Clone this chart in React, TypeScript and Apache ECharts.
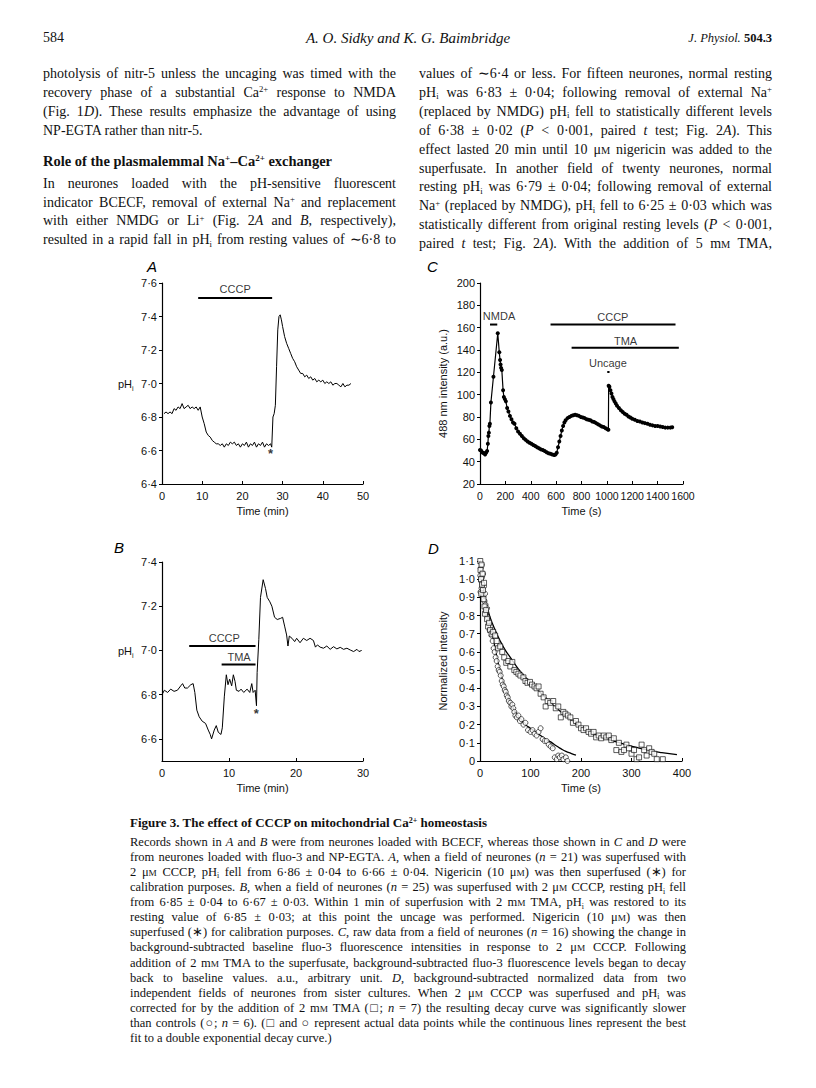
import React, { useEffect, useLayoutEffect, useRef } from "react";
import * as echarts from "echarts";

// ---------------- DATA ----------------
// Panel A: pHi vs time (min)
const A_TRACE: [number, number][] = [
  [0.5, 6.82], [1, 6.83], [1.5, 6.82], [2, 6.83], [2.5, 6.82], [3, 6.85], [3.5, 6.84], [4, 6.86], [4.5, 6.85], [5, 6.88],
  [5.5, 6.85], [6, 6.86], [6.5, 6.87], [7, 6.85], [7.5, 6.86], [8, 6.85], [8.5, 6.86], [9, 6.84], [9.5, 6.86], [10, 6.8],
  [10.5, 6.76], [11, 6.71], [11.5, 6.69], [12, 6.68], [12.5, 6.66], [13, 6.65], [13.5, 6.64], [14, 6.64], [14.5, 6.63], [15, 6.64],
  [15.5, 6.62], [16, 6.64], [16.5, 6.63], [17, 6.65], [17.5, 6.64], [18, 6.65], [18.5, 6.63], [19, 6.64], [19.5, 6.62], [20, 6.64],
  [20.5, 6.63], [21, 6.65], [21.5, 6.62], [22, 6.64], [22.5, 6.63], [23, 6.65], [23.5, 6.62], [24, 6.64], [24.5, 6.63], [25, 6.65],
  [25.5, 6.62], [26, 6.64], [26.5, 6.63], [27, 6.64], [27.3, 6.62], [27.6, 6.8], [27.9, 6.82], [28.2, 6.87], [28.5, 7.1], [28.8, 7.32],
  [29.1, 7.4], [29.4, 7.41], [29.7, 7.38], [30, 7.34], [30.5, 7.28], [31, 7.24], [31.5, 7.21], [32, 7.18], [32.5, 7.15], [33, 7.13],
  [33.5, 7.1], [34, 7.08], [34.5, 7.06], [35, 7.06], [35.5, 7.04], [36, 7.05], [36.5, 7.03], [37, 7.04], [37.5, 7.02], [38, 7.03],
  [38.5, 7.01], [39, 7.02], [39.5, 7.01], [40, 7.02], [40.5, 7.0], [41, 7.01], [41.5, 7.0], [42, 7.01], [42.5, 6.99], [43, 7.0],
  [43.5, 7.0], [44, 6.99], [44.5, 6.98], [45, 7.0], [45.5, 6.98], [46, 6.99], [46.5, 6.99], [47, 7.0],
];
const A_BARS = [{ from: 9, to: 27.4, y: 7.51 }];
const A_NOTES = [
  { x: 18.2, y: 7.565, text: "CCCP" },
  { x: 27, y: 6.585, text: "*" },
];

// Panel B: pHi vs time (min)
const B_TRACE: [number, number][] = [
  [0, 6.8], [0.35, 6.82], [0.84, 6.81], [1.3, 6.825], [1.8, 6.815], [2.3, 6.82], [2.8, 6.84], [3.07, 6.85], [3.4, 6.83], [3.8, 6.83],
  [4.3, 6.845], [4.65, 6.85], [4.9, 6.81], [5.2, 6.73], [5.55, 6.7], [6.0, 6.68], [6.5, 6.67], [6.9, 6.64], [7.2, 6.62], [7.4, 6.6],
  [7.8, 6.64], [8.1, 6.66], [8.4, 6.63], [8.8, 6.62], [9.0, 6.65], [9.3, 6.79], [9.6, 6.89], [9.85, 6.845], [10.1, 6.87], [10.4, 6.84],
  [10.65, 6.89], [10.9, 6.86], [11.1, 6.82], [11.5, 6.815], [11.8, 6.825], [12.2, 6.81], [12.7, 6.825], [13.1, 6.81], [13.4, 6.85], [13.6, 6.81],
  [13.9, 6.82], [14.1, 6.75], [14.2, 6.9], [14.45, 7.05], [14.7, 7.24], [15.1, 7.32], [15.45, 7.28], [15.7, 7.24], [16.1, 7.22], [16.4, 7.2],
  [16.8, 7.15], [17.2, 7.14], [17.7, 7.145], [18.0, 7.15], [18.3, 7.11], [18.6, 7.07], [18.8, 7.02], [19.0, 7.065], [19.4, 7.055], [19.8, 7.04],
  [20.1, 7.055], [20.6, 7.035], [21.1, 7.055], [21.6, 7.045], [22.1, 7.055], [22.6, 7.045], [22.9, 7.015], [23.2, 7.025], [23.6, 7.015], [24.1, 7.01],
  [24.6, 7.02], [25.1, 7.005], [25.6, 7.017], [26.1, 7.007], [26.6, 7.014], [27.1, 7.005], [27.6, 7.01], [28.1, 7.002], [28.6, 6.995], [29.1, 7.005],
  [29.4, 6.995], [29.8, 7.0],
];
const B_BARS = [
  { from: 4.06, to: 13.96, y: 7.02 },
  { from: 8.9, to: 13.96, y: 6.936 },
];
const B_NOTES = [
  { x: 9.3, y: 7.055, text: "CCCP" },
  { x: 11.5, y: 6.97, text: "TMA" },
  { x: 14.06, y: 6.717, text: "*" },
];

// Panel C: 488 nm intensity (a.u.) vs time (s)
const C_TRACE: [number, number][] = [
  [0, 50.5], [8, 50], [16, 48.5], [24, 48], [32, 47.5], [40, 46.5], [48, 48], [56, 49.5], [62, 56], [66, 63],
  [70, 66], [74, 72], [78, 74], [86, 93], [106, 116], [140, 155], [152, 138], [158, 131], [162, 127], [166, 124],
  [172, 122], [182, 104], [188, 98], [196, 96], [204, 94], [214, 88], [224, 85], [236, 81], [248, 78], [260, 75],
  [272, 74], [286, 70], [300, 67], [315, 65], [330, 63], [345, 61], [360, 59.5], [375, 58], [390, 57], [405, 56],
  [420, 55], [435, 54], [450, 53], [465, 52], [480, 51], [495, 50.5], [510, 49.5], [525, 48.5], [540, 47.5], [555, 47],
  [570, 46.5], [585, 46], [595, 46.5], [605, 48], [615, 53], [625, 58], [635, 63], [645, 68], [655, 72], [665, 75],
  [675, 77], [690, 79], [705, 80], [720, 81], [735, 81.5], [750, 82], [765, 81.5], [780, 81], [795, 80], [810, 79.5],
  [825, 79], [840, 78], [855, 77.5], [870, 77], [885, 76], [900, 75.5], [915, 74.5], [930, 73.5], [945, 72.5], [960, 71.5],
  [975, 71], [990, 70], [1005, 69], [1012, 68.5], [1014, 108], [1020, 107], [1028, 104], [1036, 101], [1044, 98], [1052, 96],
  [1060, 94], [1070, 92], [1080, 90], [1095, 88], [1110, 86], [1125, 84.5], [1140, 83], [1155, 82], [1170, 80.5], [1185, 79.5],
  [1200, 78.5], [1220, 77.5], [1240, 76.5], [1260, 76], [1280, 75], [1300, 74.5], [1320, 74], [1340, 73], [1360, 72.5], [1380, 72],
  [1400, 72], [1420, 71.5], [1440, 71], [1460, 70.5], [1480, 70.5], [1500, 70.5], [1515, 70.8],
];
const C_BARS = [
  { from: 79, to: 136, y: 162.8 },
  { from: 556, to: 1541, y: 162.8 },
  { from: 722, to: 1567, y: 142 },
  { from: 1003, to: 1021, y: 120.3 },
];
const C_NOTES = [
  { x: 150, y: 170.2, text: "NMDA" },
  { x: 1047, y: 169.6, text: "CCCP" },
  { x: 1147, y: 148, text: "TMA" },
  { x: 1008, y: 128, text: "Uncage" },
];

// Panel D: normalized intensity vs time (s)
const D_CONTROL: [number, number][] = [
  [0.5, 1.02], [1, 0.93], [1.5, 1.06], [2, 0.99], [3, 0.95], [3.5, 1.08], [4, 1.01], [5, 0.97], [6, 1.03], [7, 0.91],
  [8, 0.96], [9, 0.88], [10, 0.92], [11, 0.86], [12, 0.82], [14, 0.84], [15, 0.79], [17, 0.77], [19, 0.72], [21, 0.74],
  [23, 0.69], [25, 0.66], [27, 0.62], [29, 0.6], [31, 0.57], [33, 0.55], [35, 0.52], [37, 0.5], [39, 0.49], [41, 0.47],
  [43, 0.44], [45, 0.42], [47, 0.41], [49, 0.39], [51, 0.38], [53, 0.36], [55, 0.35], [57, 0.33], [60, 0.32], [62, 0.3],
  [64, 0.31], [66, 0.29], [68, 0.27], [70, 0.25], [73, 0.24], [76, 0.25], [79, 0.22], [82, 0.23], [86, 0.2], [90, 0.21],
  [95, 0.17], [100, 0.16], [104, 0.17], [108, 0.15], [112, 0.14], [116, 0.16], [120, 0.18], [124, 0.12], [128, 0.11], [132, 0.11],
  [136, 0.09], [140, 0.08], [144, 0.07], [148, 0.02], [152, 0.01], [155, 0.03], [158, 0.02], [162, 0.03], [165, 0.01], [170, 0.02],
  [173, 0.0],
];
const D_TMA: [number, number][] = [
  [0.5, 1.1], [1, 1.05], [2, 1.0], [2.5, 0.92], [3, 1.08], [4, 0.97], [5, 1.03], [6, 0.94], [7, 0.89], [8, 0.98],
  [9, 0.85], [10, 0.81], [12, 0.83], [14, 0.78], [16, 0.74], [18, 0.76], [20, 0.72], [23, 0.7], [26, 0.71], [30, 0.69],
  [33, 0.66], [36, 0.62], [40, 0.63], [44, 0.6], [48, 0.57], [52, 0.54], [56, 0.55], [60, 0.52], [64, 0.545], [68, 0.5],
  [72, 0.49], [76, 0.48], [80, 0.47], [86, 0.46], [90, 0.44], [94, 0.43], [99, 0.435], [103, 0.42], [108, 0.41], [112, 0.4],
  [116, 0.41], [120, 0.37], [126, 0.35], [130, 0.3], [134, 0.33], [139, 0.32], [145, 0.33], [150, 0.29], [155, 0.3], [160, 0.24],
  [165, 0.27], [169, 0.26], [174, 0.25], [179, 0.24], [184, 0.21], [190, 0.22], [195, 0.2], [200, 0.18], [205, 0.17], [210, 0.18],
  [215, 0.16], [220, 0.15], [225, 0.16], [230, 0.13], [235, 0.14], [240, 0.125], [245, 0.14], [250, 0.13], [255, 0.14], [260, 0.115],
  [265, 0.125], [270, 0.06], [275, 0.1], [280, 0.05], [285, 0.06], [290, 0.09], [295, 0.07], [300, 0.04], [305, 0.06], [310, 0.01],
  [315, 0.02], [320, 0.09], [325, 0.06], [330, 0.03], [335, 0.07], [340, 0.05], [345, 0.04], [350, 0.01], [362, 0.01],
];
const D_FIT_CONTROL: [number, number][] = [
  [0, 1.08], [5, 0.97], [10, 0.88], [15, 0.81], [20, 0.75], [25, 0.69], [30, 0.62], [35, 0.55], [40, 0.49], [45, 0.44],
  [50, 0.39], [55, 0.355], [60, 0.32], [70, 0.27], [80, 0.23], [90, 0.2], [100, 0.18], [110, 0.16], [120, 0.14], [130, 0.12],
  [140, 0.105], [150, 0.085], [160, 0.068], [170, 0.053], [180, 0.042], [190, 0.032],
];
const D_FIT_TMA: [number, number][] = [
  [0, 1.08], [5, 0.98], [10, 0.9], [15, 0.84], [20, 0.79], [30, 0.72], [40, 0.66], [50, 0.61], [60, 0.57], [75, 0.51],
  [90, 0.46], [105, 0.415], [120, 0.375], [135, 0.335], [150, 0.295], [165, 0.26], [180, 0.225], [195, 0.195], [210, 0.17], [225, 0.152],
  [240, 0.133], [255, 0.118], [270, 0.105], [285, 0.093], [300, 0.082], [315, 0.071], [330, 0.062], [345, 0.053], [360, 0.046], [375, 0.04],
  [390, 0.035],
];

const B_YTICKS = [6.6, 6.8, 7.0, 7.2, 7.4];

// ---------------- STYLE ----------------
const SERIF = '"Liberation Serif", "Times New Roman", serif';
const SANS = '"Liberation Sans", Arial, Helvetica, sans-serif';
const INK = "#111";

const dot1 = (v: number) => (v === 0 ? "0" : v.toFixed(1).replace(".", "\u00b7"));

function buildOption() {
  const grids = [
    { left: 162, top: 283, width: 201, height: 201 }, // A
    { left: 480, top: 283, width: 203, height: 201 }, // C
    { left: 162, top: 562, width: 201, height: 199 }, // B
    { left: 480, top: 561, width: 202, height: 200 }, // D
  ];
  const labelStyle = { color: INK, fontSize: 11, fontFamily: SANS };
  const xAx = (i: number, min: number, max: number, interval: number, name: string, size = 11) => ({
    type: "value",
    gridIndex: i,
    min,
    max,
    interval,
    name,
    nameLocation: "middle",
    nameGap: 21,
    nameTextStyle: { ...labelStyle },
    axisLine: { onZero: false, lineStyle: { color: "#000", width: 1.2 } },
    axisTick: { inside: true, length: 3, lineStyle: { color: "#000", width: 1 } },
    axisLabel: {
      ...labelStyle,
      fontSize: size,
      margin: 6,
      hideOverlap: false,
      showMinLabel: true,
      showMaxLabel: true,
      formatter: (v: number) => String(v),
    },
    splitLine: { show: false },
  });
  const yAx = (i: number, min: number, max: number, extra: any) => ({
    type: "value",
    gridIndex: i,
    min,
    max,
    axisLine: { onZero: false, lineStyle: { color: "#000", width: 1.2 } },
    axisTick: { inside: false, length: 3, lineStyle: { color: "#000", width: 1 } },
    splitLine: { show: false },
    nameTextStyle: { ...labelStyle },
    ...extra,
    axisLabel: { ...labelStyle, margin: 5, hideOverlap: false, ...(extra.axisLabel || {}) },
  });

  const xAxis = [
    xAx(0, 0, 50, 10, "Time (min)"),
    xAx(1, 0, 1600, 200, "Time (s)", 10.5),
    xAx(2, 0, 30, 10, "Time (min)"),
    xAx(3, 0, 400, 100, "Time (s)"),
  ];
  const yAxis = [
    yAx(0, 6.4, 7.6, { interval: 0.2, axisLabel: { formatter: (v: number) => dot1(v) } }),
    yAx(1, 20, 200, {
      interval: 20,
      name: "488 nm intensity (a.u.)",
      nameLocation: "middle",
      nameRotate: 90,
      nameGap: 32,
      axisLabel: { formatter: (v: number) => String(v) },
    }),
    yAx(2, 6.5, 7.4, {
      axisLabel: { formatter: (v: number) => dot1(v), customValues: B_YTICKS },
      axisTick: { inside: false, length: 3, lineStyle: { color: "#000", width: 1 }, customValues: B_YTICKS },
    }),
    yAx(3, 0, 1.1, {
      interval: 0.1,
      name: "Normalized intensity",
      nameLocation: "middle",
      nameRotate: 90,
      nameGap: 32,
      axisLabel: { formatter: (v: number) => dot1(v) },
    }),
  ];

  const series: any[] = [];
  const trace = (i: number, data: [number, number][], extra: any = {}) =>
    series.push({
      type: "line",
      xAxisIndex: i,
      yAxisIndex: i,
      data,
      symbol: "none",
      lineStyle: { color: "#000", width: 1 },
      itemStyle: { color: "#000" },
      silent: true,
      z: 3,
      ...extra,
    });
  const bars = (i: number, list: { from: number; to: number; y: number }[]) =>
    list.forEach((b) =>
      series.push({
        type: "line",
        xAxisIndex: i,
        yAxisIndex: i,
        data: [
          [b.from, b.y],
          [b.to, b.y],
        ],
        symbol: "none",
        lineStyle: { color: "#000", width: 2 },
        silent: true,
        z: 4,
      })
    );
  const notes = (i: number, list: { x: number; y: number; text: string }[]) =>
    list.forEach((n) =>
      series.push({
        type: "scatter",
        xAxisIndex: i,
        yAxisIndex: i,
        data: [[n.x, n.y]],
        symbol: "circle",
        symbolSize: 1,
        itemStyle: { color: "rgba(0,0,0,0)" },
        silent: true,
        z: 5,
        label: {
          show: true,
          position: "inside",
          formatter: n.text,
          color: "#000",
          fontSize: n.text === "*" ? 13 : 11,
          fontWeight: n.text === "*" ? "bold" : "normal",
          fontFamily: SANS,
        },
      })
    );

  // A
  trace(0, A_TRACE);
  bars(0, A_BARS);
  notes(0, A_NOTES);
  // C
  trace(1, C_TRACE, { symbol: "circle", symbolSize: 4, showSymbol: true, lineStyle: { color: "#000", width: 1.2 } });
  bars(1, C_BARS);
  notes(1, C_NOTES);
  // B
  trace(2, B_TRACE);
  bars(2, B_BARS);
  notes(2, B_NOTES);
  // D
  trace(3, D_FIT_CONTROL, { smooth: true, lineStyle: { color: "#000", width: 1.3 } });
  trace(3, D_FIT_TMA, { smooth: true, lineStyle: { color: "#000", width: 1.3 } });
  series.push({
    type: "scatter",
    xAxisIndex: 3,
    yAxisIndex: 3,
    data: D_CONTROL,
    symbol: "circle",
    symbolSize: 5,
    itemStyle: { color: "#fff", borderColor: "#000", borderWidth: 0.8 },
    silent: true,
    z: 4,
  });
  series.push({
    type: "scatter",
    xAxisIndex: 3,
    yAxisIndex: 3,
    data: D_TMA,
    symbol: "rect",
    symbolSize: 5,
    itemStyle: { color: "#fff", borderColor: "#000", borderWidth: 0.8 },
    silent: true,
    z: 4,
  });

  const letter = (t: string, x: number, y: number) => ({
    type: "text",
    x,
    y,
    style: {
      text: t,
      fontSize: 15,
      fontStyle: "italic",
      fontFamily: SANS,
      fill: "#000",
      verticalAlign: "middle",
      align: "left",
    },
  });
  const phLabel = (x: number, y: number) => [
    {
      type: "text",
      x,
      y,
      style: { text: "pH", fontSize: 11, fontFamily: SANS, fill: INK, verticalAlign: "middle", align: "left" },
    },
    {
      type: "text",
      x: x + 14,
      y: y + 4,
      style: { text: "i", fontSize: 7, fontFamily: SANS, fill: INK, verticalAlign: "middle", align: "left" },
    },
  ];

  return {
    animation: false,
    backgroundColor: "transparent",
    grid: grids,
    xAxis,
    yAxis,
    series,
    graphic: [
      letter("A", 147, 266),
      letter("C", 427, 266),
      letter("B", 114, 547),
      letter("D", 428, 548),
      ...phLabel(118, 384),
      ...phLabel(118, 651),
    ],
  };
}

// ---------------- TEXT HELPERS ----------------
const Sup = ({ c }: { c: string }) => (
  <span style={{ fontSize: "0.62em", position: "relative", top: "-0.55em", lineHeight: 0 }}>{c}</span>
);
const Sub = ({ c }: { c: string }) => (
  <span style={{ fontSize: "0.62em", position: "relative", top: "0.3em", lineHeight: 0 }}>{c}</span>
);
const SC = ({ c }: { c: string }) => <span style={{ fontSize: "0.74em" }}>{c}</span>;
const PH = () => (
  <>
    pH
    <Sub c="i" />
  </>
);
const UM = () => (
  <>
    μ<SC c="M" />
  </>
);
const MM = () => (
  <>
    m<SC c="M" />
  </>
);

function Line(props: {
  x: number;
  y: number;
  w: number;
  justify?: boolean;
  size: number;
  weight?: string;
  italic?: boolean;
  align?: "left" | "right" | "center";
  children: any;
}) {
  const ref = useRef<HTMLSpanElement>(null);
  const { x, y, w, justify, size, weight, italic, align = "left", children } = props;
  useLayoutEffect(() => {
    const el = ref.current;
    if (!el) return;
    el.style.width = "auto";
    el.style.transform = "none";
    const nat = el.getBoundingClientRect().width;
    if (nat > w) {
      el.style.transform = `scaleX(${w / nat})`;
    } else if (justify) {
      el.style.whiteSpace = "normal";
      el.style.width = w + "px";
    }
  }, []);
  return (
    <div
      style={{
        position: "absolute",
        left: x,
        top: y - 10,
        width: w,
        height: 20,
        lineHeight: "20px",
        fontSize: size,
        fontFamily: SERIF,
        fontWeight: weight || "normal",
        fontStyle: italic ? "italic" : "normal",
        color: "#111",
        whiteSpace: "nowrap",
        textAlign: align,
      }}
    >
      <span
        ref={ref}
        style={{
          display: "inline-block",
          whiteSpace: "nowrap",
          textAlign: justify ? "justify" : align,
          textAlignLast: justify ? "justify" : align,
          transformOrigin: align === "right" ? "100% 50%" : "0 50%",
        }}
      >
        {children}
      </span>
    </div>
  );
}

const BODY = 14;
const LH = 18.9;
const Y0 = 74;
const LX = 43;
const RX = 419;
const CW = 353;
const CAP_X = 130;
const CAP_W = 556;
const CAP_Y = 842;
const CAP_LH = 15.07;
const CAP = 12.5;

function PageText() {
  const left = [
    <>photolysis of nitr-5 unless the uncaging was timed with the</>,
    <>
      recovery phase of a substantial Ca<Sup c="2+" /> response to NMDA
    </>,
    <>
      (Fig. 1<i>D</i>). These results emphasize the advantage of using
    </>,
  ];
  const left2 = [
    <>In neurones loaded with the pH-sensitive fluorescent</>,
    <>
      indicator BCECF, removal of external Na<Sup c="+" /> and replacement
    </>,
    <>
      with either NMDG or Li<Sup c="+" /> (Fig. 2<i>A</i> and <i>B</i>, respectively),
    </>,
    <>
      resulted in a rapid fall in <PH /> from resting values of ∼6·8 to
    </>,
  ];
  const right = [
    <>values of ∼6·4 or less. For fifteen neurones, normal resting</>,
    <>
      <PH /> was 6·83 ± 0·04; following removal of external Na<Sup c="+" />
    </>,
    <>
      (replaced by NMDG) <PH /> fell to statistically different levels
    </>,
    <>
      of 6·38 ± 0·02 (<i>P</i> &lt; 0·001, paired <i>t</i> test; Fig. 2<i>A</i>). This
    </>,
    <>
      effect lasted 20 min until 10 <UM /> nigericin was added to the
    </>,
    <>superfusate. In another field of twenty neurones, normal</>,
    <>
      resting <PH /> was 6·79 ± 0·04; following removal of external
    </>,
    <>
      Na<Sup c="+" /> (replaced by NMDG), <PH /> fell to 6·25 ± 0·03 which was
    </>,
    <>
      statistically different from original resting levels (<i>P</i> &lt; 0·001,
    </>,
    <>
      paired <i>t</i> test; Fig. 2<i>A</i>). With the addition of 5 <MM /> TMA,
    </>,
  ];
  const cap = [
    <>
      Records shown in <i>A</i> and <i>B</i> were from neurones loaded with BCECF, whereas those shown in <i>C</i> and{" "}
      <i>D</i> were
    </>,
    <>
      from neurones loaded with fluo-3 and NP-EGTA. <i>A</i>, when a field of neurones (<i>n</i> = 21) was superfused
      with
    </>,
    <>
      2 <UM /> CCCP, <PH /> fell from 6·86 ± 0·04 to 6·66 ± 0·04. Nigericin (10 <UM />) was then superfused (∗) for
    </>,
    <>
      calibration purposes. <i>B</i>, when a field of neurones (<i>n</i> = 25) was superfused with 2 <UM /> CCCP,
      resting <PH /> fell
    </>,
    <>
      from 6·85 ± 0·04 to 6·67 ± 0·03. Within 1 min of superfusion with 2 <MM /> TMA, <PH /> was restored to its
    </>,
    <>
      resting value of 6·85 ± 0·03; at this point the uncage was performed. Nigericin (10 <UM />) was then
    </>,
    <>
      superfused (∗) for calibration purposes. <i>C</i>, raw data from a field of neurones (<i>n</i> = 16) showing the
      change in
    </>,
    <>
      background-subtracted baseline fluo-3 fluorescence intensities in response to 2 <UM /> CCCP. Following
    </>,
    <>
      addition of 2 <MM /> TMA to the superfusate, background-subtracted fluo-3 fluorescence levels began to decay
    </>,
    <>
      back to baseline values. a.u., arbitrary unit. <i>D</i>, background-subtracted normalized data from two
    </>,
    <>
      independent fields of neurones from sister cultures. When 2 <UM /> CCCP was superfused and <PH /> was
    </>,
    <>
      corrected for by the addition of 2 <MM /> TMA (□; <i>n</i> = 7) the resulting decay curve was significantly
      slower
    </>,
    <>
      than controls (○; <i>n</i> = 6). (□ and ○ represent actual data points while the continuous lines represent the
      best
    </>,
  ];
  return (
    <>
      <Line x={LX} y={38} w={100} size={14}>
        584
      </Line>
      <Line x={208} y={38} w={400} size={15} italic align="center">
        A. O. Sidky and K. G. Baimbridge
      </Line>
      <Line x={572} y={38} w={200} size={12.5} align="right">
        <i>J. Physiol.</i> <b>504.3</b>
      </Line>
      {left.map((c, k) => (
        <Line key={"l" + k} x={LX} y={Y0 + LH * k} w={CW} size={BODY} justify>
          {c}
        </Line>
      ))}
      <Line x={LX} y={Y0 + LH * 3} w={CW} size={BODY}>
        NP-EGTA rather than nitr-5.
      </Line>
      <Line x={LX} y={Y0 + LH * 4.6} w={CW} size={14.5} weight="bold">
        Role of the plasmalemmal Na<Sup c="+" />–Ca<Sup c="2+" /> exchanger
      </Line>
      {left2.map((c, k) => (
        <Line key={"m" + k} x={LX} y={Y0 + LH * (5.8 + k)} w={CW} size={BODY} justify>
          {c}
        </Line>
      ))}
      {right.map((c, k) => (
        <Line key={"r" + k} x={RX} y={Y0 + LH * k} w={CW} size={BODY} justify>
          {c}
        </Line>
      ))}
      <Line x={CAP_X} y={823} w={CAP_W} size={13} weight="bold">
        Figure 3. The effect of CCCP on mitochondrial Ca<Sup c="2+" /> homeostasis
      </Line>
      {cap.map((c, k) => (
        <Line key={"c" + k} x={CAP_X} y={CAP_Y + CAP_LH * k} w={CAP_W} size={CAP} justify>
          {c}
        </Line>
      ))}
      <Line x={CAP_X} y={CAP_Y + CAP_LH * 13} w={CAP_W} size={CAP}>
        fit to a double exponential decay curve.)
      </Line>
    </>
  );
}

export default function App() {
  const ref = useRef<HTMLDivElement>(null);
  useEffect(() => {
    if (!ref.current) return;
    const chart = echarts.init(ref.current, undefined, { renderer: "svg" });
    chart.setOption(buildOption() as any);
    return () => chart.dispose();
  }, []);
  return (
    <div style={{ position: "absolute", left: 0, top: 0, width: 816, height: 1088, background: "#fff", overflow: "hidden" }}>
      <div ref={ref} style={{ position: "absolute", left: 0, top: 0, width: 816, height: 1088 }} />
      <PageText />
    </div>
  );
}
